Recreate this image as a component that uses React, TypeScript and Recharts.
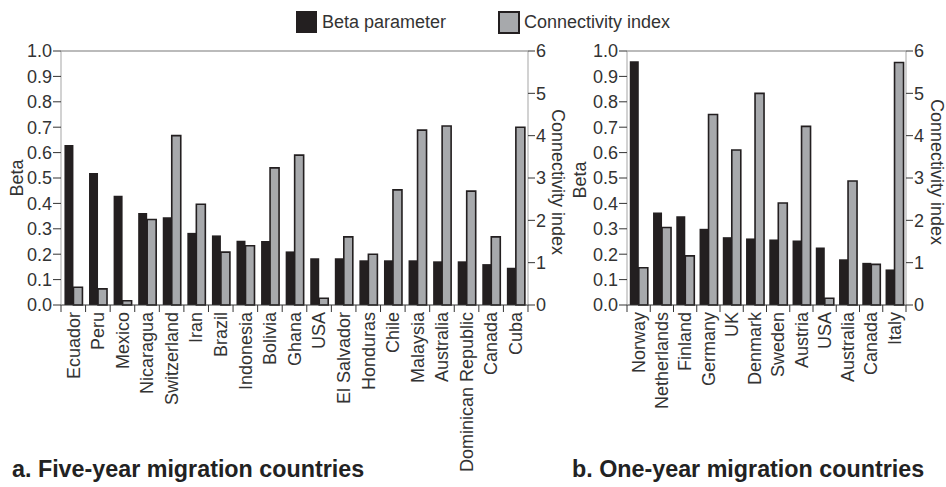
import { BarChart, Bar, XAxis, YAxis, ReferenceLine } from "recharts";

const fiveYearCountries = [
  "Ecuador", "Peru", "Mexico", "Nicaragua", "Switzerland", "Iran", "Brazil",
  "Indonesia", "Bolivia", "Ghana", "USA", "El Salvador", "Honduras", "Chile",
  "Malaysia", "Australia", "Dominican Republic", "Canada", "Cuba",
];
const fiveYearBeta = [
  0.63, 0.52, 0.43, 0.362, 0.345, 0.284, 0.274, 0.253, 0.252, 0.211, 0.184,
  0.184, 0.176, 0.176, 0.176, 0.172, 0.172, 0.161, 0.147,
];
const fiveYearConnectivity = [
  0.42, 0.38, 0.1, 2.02, 4.0, 2.38, 1.25, 1.4, 3.24, 3.54, 0.16, 1.61, 1.2,
  2.72, 4.13, 4.23, 2.69, 1.61, 4.2,
];

const oneYearCountries = [
  "Norway", "Netherlands", "Finland", "Germany", "UK", "Denmark", "Sweden",
  "Austria", "USA", "Australia", "Canada", "Italy",
];
const oneYearBeta = [
  0.96, 0.364, 0.349, 0.3, 0.267, 0.262, 0.258, 0.254, 0.226, 0.18, 0.166, 0.14,
];
const oneYearConnectivity = [
  0.88, 1.83, 1.16, 4.5, 3.66, 5.0, 2.41, 4.22, 0.16, 2.93, 0.96, 5.73,
];

const betaTicks = [0, 0.1, 0.2, 0.3, 0.4, 0.5, 0.6, 0.7, 0.8, 0.9, 1.0];
const connTicks = [0, 1, 2, 3, 4, 5, 6];

const BLACK = "#231f20";
const GREY = "#a7a9ac";
const TEXT = "#333";
const FONT = "'Liberation Sans', Arial, sans-serif";

const toRows = (names: string[], beta: number[], conn: number[]) =>
  names.map((name, i) => ({ name, beta: beta[i], conn: conn[i] }));

function CountryTick(props: any) {
  const { x, y, payload, index, step, count } = props;
  return (
    <g transform={`translate(${x},${y})`}>
      <line x1={-step / 2} y1={0} x2={-step / 2} y2={7} stroke={TEXT} />
      {index === count - 1 && (
        <line x1={step / 2} y1={0} x2={step / 2} y2={7} stroke={TEXT} />
      )}
      <text
        transform="rotate(-90)"
        x={-7}
        y={0}
        dy="0.35em"
        textAnchor="end"
        fontSize={18}
        fill={TEXT}
        fontFamily={FONT}
      >
        {payload.value}
      </text>
    </g>
  );
}

// axis title at a fixed spot; prop names chosen so Label's own props don't override them
function AxisTitle({ px, py, turn, title }: any) {
  return (
    <text
      x={px}
      y={py}
      transform={`rotate(${turn} ${px} ${py})`}
      textAnchor="middle"
      dominantBaseline="central"
      fontSize={18}
      fill={TEXT}
      fontFamily={FONT}
    >
      {title}
    </text>
  );
}

type PanelProps = {
  rows: { name: string; beta: number; conn: number }[];
  width: number;
  leftAxis: number;
  rightAxis: number;
  gap: string;
  betaX: number;
  betaY: number;
  connX: number;
  connY: number;
};

function Panel({ rows, width, leftAxis, rightAxis, gap, betaX, betaY, connX, connY }: PanelProps) {
  const step = (width - leftAxis - rightAxis) / rows.length;
  const tickStyle = { fontSize: 18, fill: TEXT, fontFamily: FONT };
  return (
    <BarChart
      width={width}
      height={487}
      data={rows}
      margin={{ top: 51, right: 0, bottom: 0, left: 0 }}
      barCategoryGap={gap}
      barGap={0}
    >
      <XAxis
        dataKey="name"
        height={182}
        interval={0}
        tickSize={0}
        tickMargin={0}
        axisLine={{ stroke: TEXT }}
        tickLine={false}
        tick={(p: any) => <CountryTick {...p} step={step} count={rows.length} />}
      />
      <YAxis
        yAxisId="beta"
        width={leftAxis}
        domain={[0, 1]}
        ticks={betaTicks}
        interval={0}
        tickFormatter={(v: number) => v.toFixed(1)}
        tickSize={8}
        tickMargin={1}
        axisLine={{ stroke: "#a5a5a5" }}
        tickLine={{ stroke: TEXT }}
        tick={tickStyle}
        label={<AxisTitle px={betaX} py={betaY} turn={-90} title="Beta" />}
      />
      <YAxis
        yAxisId="conn"
        orientation="right"
        width={rightAxis}
        domain={[0, 6]}
        ticks={connTicks}
        interval={0}
        tickSize={7}
        tickMargin={1}
        axisLine={{ stroke: "#a5a5a5" }}
        tickLine={{ stroke: TEXT }}
        tick={tickStyle}
        label={<AxisTitle px={connX} py={connY} turn={90} title="Connectivity index" />}
      />
      <ReferenceLine yAxisId="beta" y={1} stroke="#a5a5a5" strokeWidth={1.5} />
      <Bar yAxisId="beta" dataKey="beta" fill={BLACK} isAnimationActive={false} />
      <Bar
        yAxisId="conn"
        dataKey="conn"
        fill={GREY}
        stroke={BLACK}
        strokeWidth={1.6}
        isAnimationActive={false}
      />
    </BarChart>
  );
}

export default function App() {
  const titleStyle = {
    position: "absolute" as const,
    top: 458,
    fontFamily: FONT,
    fontWeight: 700,
    fontSize: 23.3,
    lineHeight: "23px",
    color: "#222",
    whiteSpace: "nowrap" as const,
  };
  const legendText = { fontFamily: FONT, fontSize: 18, color: TEXT, whiteSpace: "nowrap" as const };
  return (
    <div style={{ position: "absolute", left: 0, top: 0, width: 946, height: 487, background: "#fff" }}>
      <div style={{ position: "absolute", left: 0, top: 0 }}>
        <Panel
          rows={toRows(fiveYearCountries, fiveYearBeta, fiveYearConnectivity)}
          width={568}
          leftAxis={61}
          rightAxis={40}
          gap="14%"
          betaX={17}
          betaY={178}
          connX={558}
          connY={182}
        />
      </div>
      <div style={{ position: "absolute", left: 568, top: 0 }}>
        <Panel
          rows={toRows(oneYearCountries, oneYearBeta, oneYearConnectivity)}
          width={378}
          leftAxis={59}
          rightAxis={40}
          gap="12%"
          betaX={12}
          betaY={180}
          connX={369}
          connY={172}
        />
      </div>
      <div style={{ position: "absolute", left: 296, top: 11, height: 22, display: "flex", alignItems: "center" }}>
        <div style={{ width: 21, height: 22, background: BLACK }} />
        <span style={{ ...legendText, marginLeft: 5 }}>Beta parameter</span>
      </div>
      <div style={{ position: "absolute", left: 498, top: 11, height: 22, display: "flex", alignItems: "center" }}>
        <div style={{ width: 18, height: 19, background: GREY, border: `2px solid ${BLACK}` }} />
        <span style={{ ...legendText, marginLeft: 4 }}>Connectivity index</span>
      </div>
      <div style={{ ...titleStyle, left: 12 }}>a. Five-year migration countries</div>
      <div style={{ ...titleStyle, left: 572 }}>b. One-year migration countries</div>
    </div>
  );
}
